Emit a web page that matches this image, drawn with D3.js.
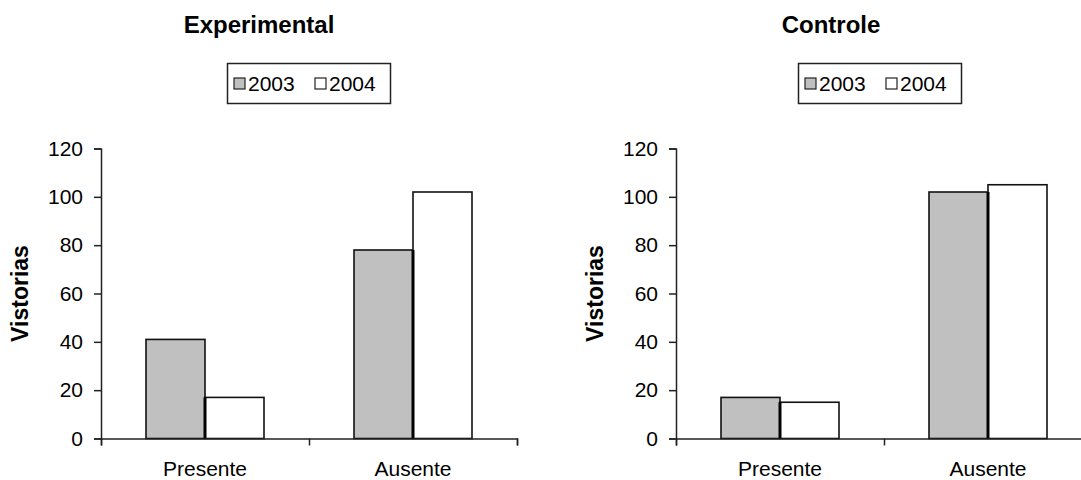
<!DOCTYPE html>
<html><head><meta charset="utf-8">
<script src="https://cdn.jsdelivr.net/npm/d3@7"></script>
<style>body{margin:0;background:#fff}svg{display:block}text{font-family:"Liberation Sans",Arial,sans-serif;fill:#000}</style>
</head><body><svg id="c" width="1081" height="480"></svg>
<script>
const categories = ["Presente", "Ausente"];
const seriesNames = ["2003", "2004"];
const experimental2003 = [41, 78];
const experimental2004 = [17, 102];
const controle2003 = [17, 102];
const controle2004 = [15, 105];
const yTicks = [0, 20, 40, 60, 80, 100, 120];
const panels = [
  {title: "Experimental", s2003: experimental2003, s2004: experimental2004, x0: 101, titleX: 259, legendX: 227},
  {title: "Controle", s2003: controle2003, s2004: controle2004, x0: 676, titleX: 831, legendX: 798}
];
const colors = {"2003": "#c0c0c0", "2004": "#ffffff"};

const svg = d3.select("#c");
const plotW = 416, yTop = 148.5, yBot = 438.5;

panels.forEach(p => {
  const g = svg.append("g");
  const x = d3.scaleBand().domain(categories).range([p.x0, p.x0 + plotW])
    .paddingInner(90/208).paddingOuter(45/208);
  const xs = d3.scaleBand().domain(seriesNames).range([0, x.bandwidth()]);
  const y = d3.scaleLinear().domain([0, 120]).range([yBot, yTop]);

  // title
  g.append("text").attr("x", p.titleX).attr("y", 33).attr("text-anchor", "middle")
    .style("font-weight", "bold").style("font-size", "24px").text(p.title);

  // legend
  const lg = g.append("g").attr("transform", `translate(${p.legendX},63)`);
  lg.append("rect").attr("x", 0.5).attr("y", 0.5).attr("width", 163).attr("height", 40)
    .attr("fill", "#fff").attr("stroke", "#222").attr("stroke-width", 1.5);
  seriesNames.forEach((s, i) => {
    const ox = 7 + i * 81;
    lg.append("rect").attr("x", ox).attr("y", 15).attr("width", 11).attr("height", 11)
      .attr("fill", colors[s]).attr("stroke", "#222").attr("stroke-width", 1.2);
    lg.append("text").attr("x", ox + 14).attr("y", 28).style("font-size", "21px").text(s);
  });

  // y axis
  const ya = g.append("g").attr("transform", `translate(${p.x0},0)`)
    .call(d3.axisLeft(y).tickValues(yTicks).tickSize(7).tickPadding(11));
  ya.select(".domain").attr("stroke", "#222").attr("stroke-width", 1.5);
  ya.selectAll(".tick line").attr("stroke", "#222").attr("stroke-width", 1.5);
  ya.selectAll(".tick text").style("font-size", "21px").style("font-family", '"Liberation Sans",Arial,sans-serif').attr("fill", "#000");

  // y title
  g.append("text").attr("transform", `translate(${p.x0 - 73},${(yTop + yBot) / 2}) rotate(-90)`)
    .attr("text-anchor", "middle").style("font-weight", "bold").style("font-size", "23px").text("Vistorias");

  // bars
  const data = [];
  categories.forEach((c, i) => {
    data.push({c, s: "2003", v: p.s2003[i]});
    data.push({c, s: "2004", v: p.s2004[i]});
  });
  g.append("g").selectAll("rect").data(data).join("rect")
    .attr("x", d => x(d.c) + xs(d.s))
    .attr("y", d => y(d.v))
    .attr("width", xs.bandwidth())
    .attr("height", d => y(0) - y(d.v))
    .attr("fill", d => colors[d.s])
    .attr("stroke", "#111").attr("stroke-width", 1.6);
  // heavier separator between pair bars
  g.append("g").selectAll("line").data(categories).join("line")
    .attr("x1", c => x(c) + xs("2004")).attr("x2", c => x(c) + xs("2004"))
    .attr("y1", (c, i) => y(Math.min(p.s2003[i], p.s2004[i]))).attr("y2", y(0))
    .attr("stroke", "#000").attr("stroke-width", 3);

  // x axis
  const xb = d3.scaleLinear().domain([0, categories.length]).range([p.x0, p.x0 + plotW]);
  const xa = g.append("g").attr("transform", `translate(0,${yBot})`)
    .call(d3.axisBottom(xb).tickValues(d3.range(categories.length + 1)).tickFormat("").tickSize(7).tickSizeOuter(7));
  xa.select(".domain").attr("stroke", "#222").attr("stroke-width", 1.5);
  xa.selectAll(".tick line").attr("stroke", "#222").attr("stroke-width", 1.5);
  g.append("g").selectAll("text.cat").data(categories).join("text").attr("class", "cat")
    .attr("x", c => x(c) + x.bandwidth() / 2).attr("y", 476).attr("text-anchor", "middle")
    .style("font-size", "21px").text(c => c);
});
</script></body></html>
